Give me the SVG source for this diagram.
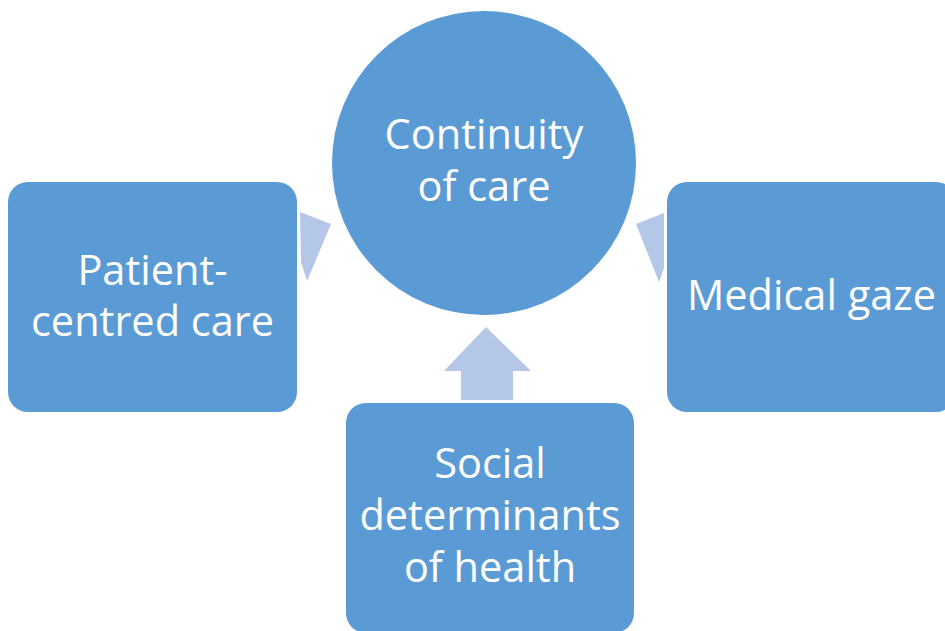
<svg xmlns="http://www.w3.org/2000/svg" width="945" height="631" viewBox="0 0 945 631">
  <style>
    .node { fill: #5b9bd5; }
    .arrow { fill: #b4c7e7; }
    .label { fill: #ffffff; font-family: "Open Sans", "Noto Sans", sans-serif; font-size: 41.5px; text-anchor: middle; }
  </style>
  <rect width="945" height="631" fill="#ffffff"/>

  <!-- arrows pointing into the central circle -->
  <g id="connectors">
    <polygon class="arrow" points="300,212 331,224 307,281 301,262"/>
    <polygon class="arrow" points="636,224 664,213 664,268 659,282"/>
    <polygon class="arrow" points="486,327 531,371 513,371 513,400 461,400 461,371 444,371"/>
  </g>

  <g id="continuity">
    <circle class="node" cx="484" cy="163" r="152"/>
    <text class="label" x="484" y="149">Continuity</text>
    <text class="label" x="484" y="201">of care</text>
  </g>

  <g id="patient-centred">
    <rect class="node" x="8" y="182" width="289" height="230" rx="20"/>
    <text class="label" x="152.5" y="285">Patient-</text>
    <text class="label" x="152.5" y="336">centred care</text>
  </g>

  <g id="medical-gaze">
    <rect class="node" x="667" y="182" width="289" height="230" rx="20"/>
    <text class="label" x="811.5" y="310">Medical gaze</text>
  </g>

  <g id="social-determinants">
    <rect class="node" x="346" y="403" width="288" height="230" rx="20"/>
    <text class="label" x="490" y="478">Social</text>
    <text class="label" x="490" y="530">determinants</text>
    <text class="label" x="490" y="582">of health</text>
  </g>
</svg>
